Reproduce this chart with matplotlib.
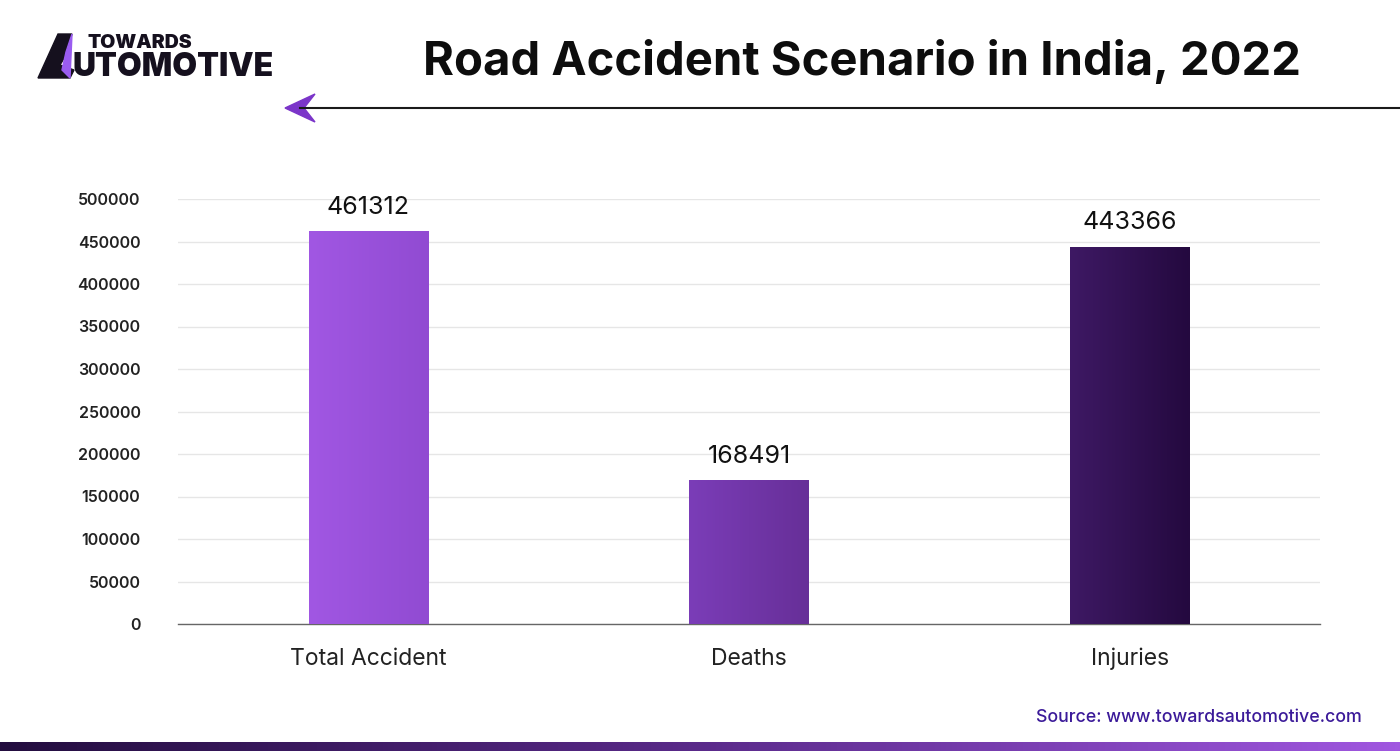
import numpy as np
import matplotlib.pyplot as plt
from matplotlib.patches import Polygon
from matplotlib.colors import LinearSegmentedColormap

categories = ['Total Accident', 'Deaths', 'Injuries']
values = [461312, 168491, 443366]
yticks = [0, 50000, 100000, 150000, 200000, 250000, 300000, 350000, 400000, 450000, 500000]
bar_colors = [('#a157e3', '#914bd2'), ('#7b3db8', '#672f98'), ('#3e1964', '#24093f')]

plt.rcParams['font.family'] = ['Inter', 'DejaVu Sans']

fig = plt.figure(figsize=(14, 7.51), dpi=100)
ax = fig.add_axes([178 / 1400, 127 / 751, 1142 / 1400, 425 / 751])

x = np.arange(len(categories))
width = 0.313
bars = ax.bar(x, values, width=width, color='none', zorder=3)
grad = np.linspace(0, 1, 256).reshape(1, -1)
for b, (c1, c2) in zip(bars, bar_colors):
    cm = LinearSegmentedColormap.from_list('g', [c1, c2])
    x0, w, h = b.get_x(), b.get_width(), b.get_height()
    ax.imshow(grad, cmap=cm, aspect='auto', extent=[x0, x0 + w, 0, h], zorder=3)
    ax.text(x0 + w / 2, h + 15000, f'{int(h)}', ha='center', va='bottom',
            fontsize=18, color='#111111', zorder=4)

ax.set_xlim(-0.5, 2.5)
ax.set_ylim(0, 500000)
ax.set_yticks(yticks)
ax.set_yticklabels([str(t) for t in yticks], fontsize=11.5, fontweight='semibold', color='#222222')
ax.set_xticks(x)
ax.set_xticklabels(categories, fontsize=16.5, color='#222222')
ax.tick_params(axis='y', length=0, pad=27)
ax.tick_params(axis='x', length=0, pad=17)
ax.grid(axis='y', color='#e6e6e6', linewidth=1, zorder=0)
for s in ['top', 'right', 'left']:
    ax.spines[s].set_visible(False)
ax.spines['bottom'].set_color('#666666')
ax.spines['bottom'].set_linewidth(1)
ax.set_axisbelow(True)

# title and header line
fig.text(862 / 1400, 1 - 62 / 751, 'Road Accident Scenario in India, 2022', ha='center', va='center',
         fontsize=34, fontweight='bold', color='#0d0d0d')
fig.add_artist(plt.Line2D([300 / 1400, 1], [1 - 108 / 751] * 2, color='#1a1a1a', linewidth=1.5))
arrow = Polygon([[285 / 1400, 1 - 108 / 751], [315 / 1400, 1 - 94 / 751],
                 [304 / 1400, 1 - 108 / 751], [315 / 1400, 1 - 122 / 751]],
                closed=True, transform=fig.transFigure, color='#7b35c9')
fig.add_artist(arrow)

# logo
fig.text(88 / 1400, 1 - 43 / 751, 'TOWARDS', fontsize=14, fontweight='black', color='#15101e',
         va='center', ha='left')
fig.text(72 / 1400, 1 - 67 / 751, 'UTOMOTIVE', fontsize=23, fontweight='black', color='#15101e',
         va='center', ha='left')
logo_dark = Polygon([[38 / 1400, 1 - 78 / 751], [58 / 1400, 1 - 34 / 751], [72 / 1400, 1 - 34 / 751],
                     [66 / 1400, 1 - 55 / 751], [60 / 1400, 1 - 65 / 751], [74 / 1400, 1 - 70 / 751],
                     [70 / 1400, 1 - 78 / 751]],
                    closed=True, transform=fig.transFigure, color='#15101e')
logo_purple = Polygon([[66 / 1400, 1 - 52 / 751], [72 / 1400, 1 - 34 / 751], [70 / 1400, 1 - 78 / 751],
                       [62 / 1400, 1 - 70 / 751]],
                      closed=True, transform=fig.transFigure, color='#9a5cf0')
fig.add_artist(logo_dark)
fig.add_artist(logo_purple)

# source
fig.text(1362 / 1400, 1 - 717 / 751, 'Source: www.towardsautomotive.com', ha='right', va='center',
         fontsize=12.8, fontweight='medium', color='#3b1a99')

# bottom gradient strip
strip = fig.add_axes([0, 0, 1, 9 / 751])
strip_cm = LinearSegmentedColormap.from_list('s', ['#230d3f', '#5a2a8a', '#a057e0'])
strip.imshow(grad, cmap=strip_cm, aspect='auto', extent=[0, 1, 0, 1])
strip.axis('off')

fig.savefig('out.png', dpi=100)
